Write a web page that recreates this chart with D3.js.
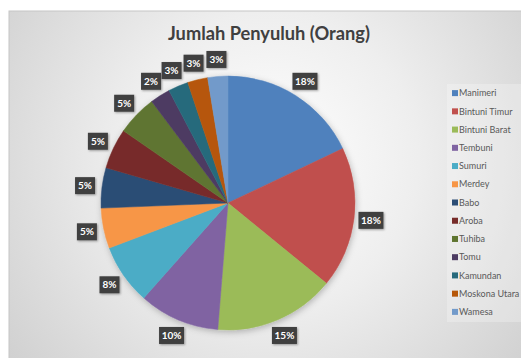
<!DOCTYPE html>
<html>
<head>
<meta charset="utf-8">
<script src="https://cdn.jsdelivr.net/npm/d3@7"></script>
<style>
  body { margin: 0; background: #fff; }
  svg { display: block; }
</style>
</head>
<body>
<div id="chart"></div>
<script>
const categories = ["Manimeri","Bintuni Timur","Bintuni Barat","Tembuni","Sumuri","Merdey","Babo","Aroba","Tuhiba","Tomu","Kamundan","Moskona Utara","Wamesa"]
const counts = [7,7,6,4,3,2,2,2,2,1,1,1,1]
const pctLabels = ["18%","18%","15%","10%","8%","5%","5%","5%","5%","2%","3%","3%","3%"]
const colors = ["#4f81bd","#c0504d","#9bbb59","#8064a2","#4bacc6","#f79646","#2c4d75","#772c2a","#5f7530","#4d3b62","#276a7c","#b65708","#729aca"]
const title = "Jumlah Penyuluh (Orang)"

const W = 521, H = 358
const svg = d3.select("#chart").append("svg").attr("width", W).attr("height", H)
const defs = svg.append("defs")

// background gradient
const bg = defs.append("radialGradient").attr("id","bgGrad")
    .attr("gradientUnits","userSpaceOnUse")
    .attr("cx",270).attr("cy",160).attr("r",330)
bg.append("stop").attr("offset","0%").attr("stop-color","#ffffff")
bg.append("stop").attr("offset","45%").attr("stop-color","#eeeeee")
bg.append("stop").attr("offset","100%").attr("stop-color","#d0d0d0")

const shadow = defs.append("filter").attr("id","pieShadow").attr("x","-20%").attr("y","-20%").attr("width","140%").attr("height","140%")
shadow.append("feDropShadow").attr("dx",1).attr("dy",2).attr("stdDeviation",3).attr("flood-color","#000").attr("flood-opacity",0.25)
const lblShadow = defs.append("filter").attr("id","lblShadow").attr("x","-30%").attr("y","-30%").attr("width","160%").attr("height","160%")
lblShadow.append("feDropShadow").attr("dx",1).attr("dy",1).attr("stdDeviation",1).attr("flood-color","#000").attr("flood-opacity",0.35)

svg.append("rect").attr("x",9).attr("y",11).attr("width",W).attr("height",H)
    .attr("fill","url(#bgGrad)").attr("stroke","#c6c6c6").attr("stroke-width",1)

svg.append("text").attr("x",269).attr("y",39.5)
    .attr("text-anchor","middle")
    .attr("font-family","Lato, 'Open Sans', sans-serif")
    .attr("font-weight","bold").attr("font-size",18)
    .attr("textLength",202).attr("lengthAdjust","spacingAndGlyphs")
    .attr("fill","#404040").text(title)

// pie
const cx = 228, cy = 203, radius = 127, labelR = 144
const data = categories.map((c,i)=>({name:c, value:counts[i], label:pctLabels[i], color:colors[i]}))
const pie = d3.pie().value(d=>d.value).sort(null)
const arc = d3.arc().innerRadius(0).outerRadius(radius)
const labelArc = d3.arc().innerRadius(labelR).outerRadius(labelR)
const arcs = pie(data)

const pieG = svg.append("g").attr("transform",`translate(${cx},${cy})`)
pieG.append("g").attr("filter","url(#pieShadow)")
    .selectAll("path").data(arcs).enter().append("path")
    .attr("d",arc)
    .attr("fill",d=>d.data.color)
    .attr("stroke",d=>d.data.color).attr("stroke-width",0.5)

const lbl = pieG.selectAll("g.lbl").data(arcs).enter().append("g").attr("class","lbl")
    .attr("transform",d=>`translate(${labelArc.centroid(d)})`)
lbl.append("rect")
    .attr("x",d=>d.data.label.length==3 ? -12.5 : -10)
    .attr("y",-8.5)
    .attr("width",d=>d.data.label.length==3 ? 25 : 20)
    .attr("height",17)
    .attr("fill","#404040")
    .attr("filter","url(#lblShadow)")
lbl.append("text")
    .attr("text-anchor","middle").attr("dy","0.35em")
    .attr("font-family","Lato, 'Open Sans', sans-serif")
    .attr("font-weight","bold").attr("font-size",10)
    .attr("fill","#ffffff")
    .text(d=>d.data.label)

// legend
const legend = svg.append("g").attr("transform","translate(447,84)")
legend.append("rect").attr("x",0).attr("y",0).attr("width",74).attr("height",238)
    .attr("fill","#ffffff").attr("opacity",0.25)
const ly = d3.scaleBand().domain(categories).range([0,237]).paddingInner(0)
const item = legend.selectAll("g.item").data(categories).enter().append("g").attr("class","item")
    .attr("transform",d=>`translate(5,${ly(d)+ly.bandwidth()/2})`)
item.append("rect").attr("x",0).attr("y",-3).attr("width",6).attr("height",6)
    .attr("fill",(d,i)=>colors[i])
item.append("text").attr("x",7).attr("dy","0.35em")
    .attr("font-family","Lato, 'Open Sans', sans-serif")
    .attr("font-size",9).attr("fill","#595959")
    .text(d=>d)
</script>
</body>
</html>
